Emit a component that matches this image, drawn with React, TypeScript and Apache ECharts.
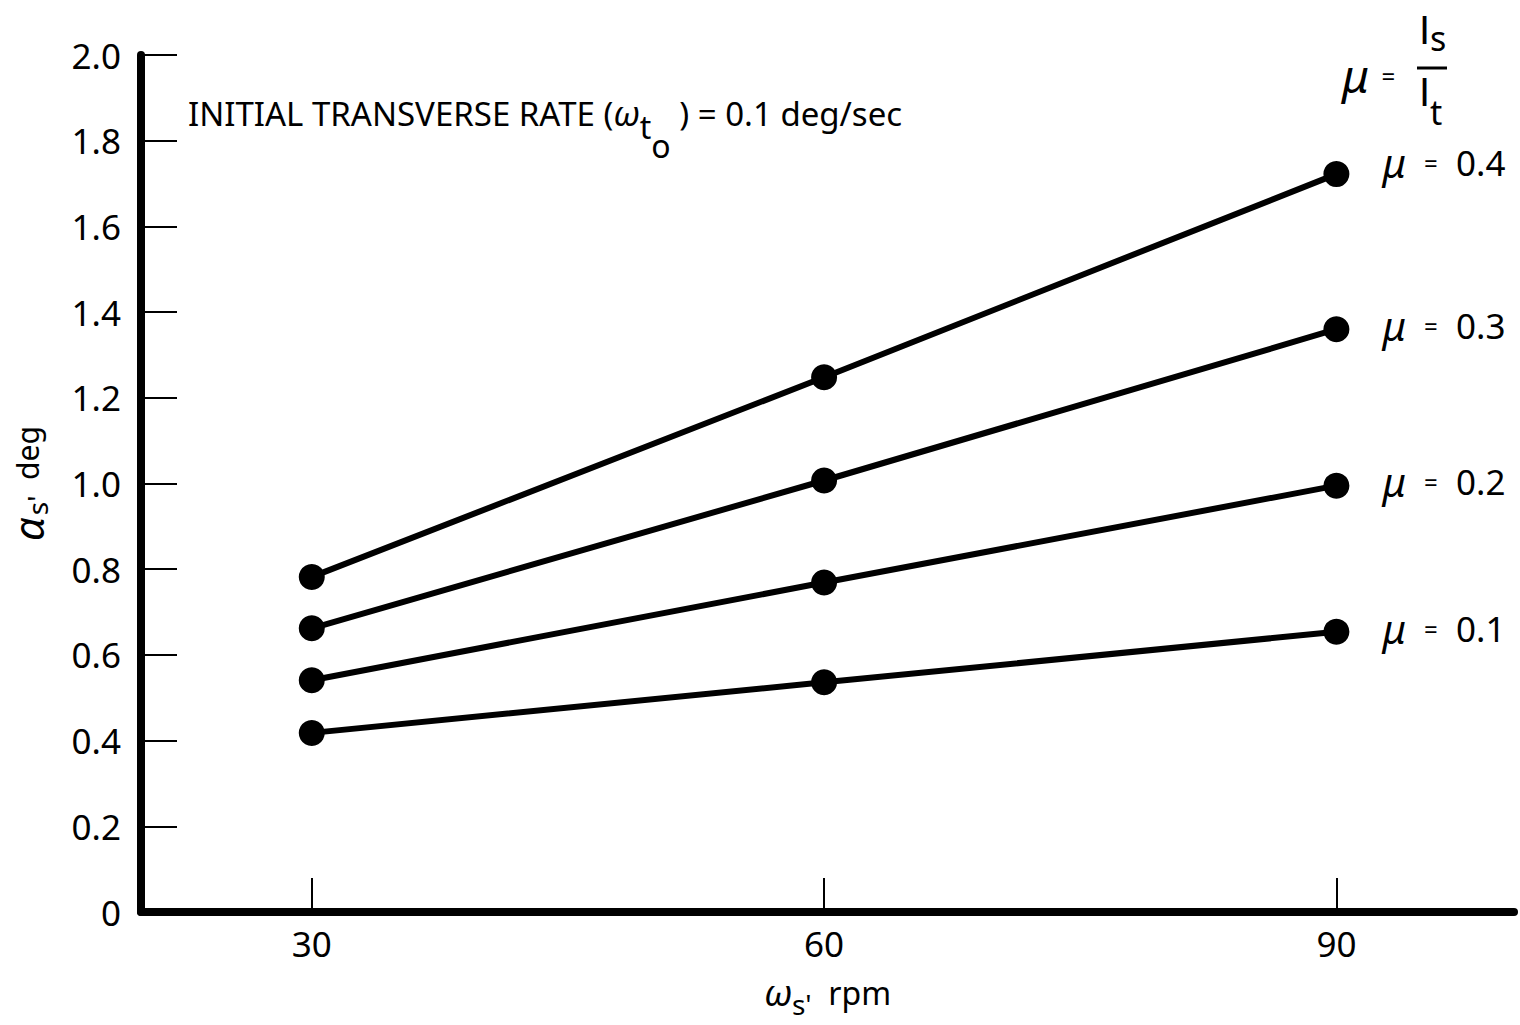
import React, { useEffect, useRef } from "react";
import * as echarts from "echarts";

const xValues = [30, 60, 90];
const mu04 = [0.782, 1.248, 1.722];
const mu03 = [0.662, 1.007, 1.36];
const mu02 = [0.541, 0.769, 0.995];
const mu01 = [0.418, 0.536, 0.654];
const muValues = ["0.4", "0.3", "0.2", "0.1"];
const seriesData = [mu04, mu03, mu02, mu01];
const labelShift = [-12, -4, -4, -3];
const xTicks = [30, 60, 90];

const FONT = "'Noto Sans', 'DejaVu Sans', sans-serif";
const PLAIN = "'Liberation Sans', Roboto, sans-serif";

export default function App() {
  const ref = useRef<HTMLDivElement>(null);
  useEffect(() => {
    if (!ref.current) return;
    const chart = echarts.init(ref.current, null, { renderer: "svg" });
    const series = seriesData.map((vals, i) => ({
      type: "line",
      name: "μ = " + muValues[i],
      data: vals.map((v, j) => [xValues[j], v]),
      symbol: "circle",
      symbolSize: 26,
      itemStyle: { color: "#000" },
      lineStyle: { color: "#000", width: 6 },
      label: { show: false },
      endLabel: {
        show: true,
        formatter: "{mu|μ}  {eq|=}  " + muValues[i],
        distance: 46,
        offset: [0, labelShift[i]],
        color: "#000",
        fontFamily: FONT,
        fontSize: 35,
        rich: {
          mu: { fontFamily: FONT, fontSize: 40, fontStyle: "italic", color: "#000" },
          eq: { fontFamily: FONT, fontSize: 24, color: "#000" },
        },
      },
    }));
    chart.setOption({
      animation: false,
      backgroundColor: "#fff",
      grid: { left: 141, right: 6, top: 55, bottom: 113, containLabel: false, outerBoundsMode: "none" },
      xAxis: {
        type: "value",
        min: 20,
        max: 100.4,
        name: "{w|ω}{sub|s'}  rpm",
        nameLocation: "middle",
        nameGap: 54,
        nameTextStyle: {
          fontFamily: FONT,
          fontSize: 32,
          color: "#000",
          rich: {
            w: { fontFamily: FONT, fontSize: 36, color: "#000", fontStyle: "italic" },
            sub: { fontFamily: FONT, fontSize: 28, color: "#000", padding: [24, 0, 0, 0] },
          },
        },
        axisLine: { show: true, lineStyle: { color: "#000", width: 8 } },
        axisTick: {
          show: true,
          inside: true,
          length: 34,
          customValues: xTicks,
          lineStyle: { color: "#000", width: 2 },
        },
        axisLabel: {
          customValues: xTicks,
          fontFamily: FONT,
          fontSize: 35,
          color: "#000",
          margin: 14,
        },
        splitLine: { show: false },
      },
      yAxis: {
        type: "value",
        min: 0,
        max: 2.0,
        interval: 0.2,
        name: "{a|α}{sub|s'}  deg",
        nameLocation: "middle",
        nameRotate: 90,
        nameGap: 90,
        nameTextStyle: {
          fontFamily: FONT,
          fontSize: 30,
          color: "#000",
          rich: {
            a: { fontFamily: FONT, fontSize: 42, color: "#000", fontStyle: "italic" },
            sub: { fontFamily: FONT, fontSize: 28, color: "#000", padding: [20, 0, 0, 2] },
          },
        },
        axisLine: { show: true, lineStyle: { color: "#000", width: 8 } },
        axisTick: { show: true, inside: true, length: 36, lineStyle: { color: "#000", width: 2 } },
        axisLabel: {
          fontFamily: FONT,
          fontSize: 35,
          color: "#000",
          margin: 20,
          formatter: (v: number) => (v === 0 ? "0" : v.toFixed(1)),
        },
        splitLine: { show: false },
      },
      graphic: [
        {
          type: "text",
          left: 188,
          top: 96,
          style: {
            text: "INITIAL TRANSVERSE RATE ({w|ω}{t|t}{o|o} ) = 0.1 deg/sec",
            fontFamily: FONT,
            fontSize: 33,
            fill: "#000",
            rich: {
              w: { fontFamily: FONT, fontSize: 34, fontStyle: "italic", fill: "#000" },
              t: { fontFamily: FONT, fontSize: 32, fill: "#000", padding: [26, 0, 0, 0] },
              o: { fontFamily: FONT, fontSize: 32, fill: "#000", padding: [64, 0, 0, 0] },
            },
          },
        },
        {
          type: "text",
          left: 1342,
          top: 52,
          style: {
            text: "{mu|μ}  = ",
            fontFamily: FONT,
            fontSize: 24,
            fill: "#000",
            rich: { mu: { fontFamily: FONT, fontSize: 46, fontStyle: "italic", fill: "#000" } },
          },
        },
        {
          type: "text",
          left: 1419,
          top: 10,
          style: {
            text: "I{s|s}",
            fontFamily: PLAIN,
            fontSize: 40,
            fill: "#000",
            rich: { s: { fontFamily: FONT, fontSize: 34, fill: "#000", padding: [16, 0, 0, 0] } },
          },
        },
        {
          type: "line",
          shape: { x1: 1417, y1: 68, x2: 1447, y2: 68 },
          style: { stroke: "#000", lineWidth: 3 },
        },
        {
          type: "text",
          left: 1419,
          top: 72,
          style: {
            text: "I{t|t}",
            fontFamily: PLAIN,
            fontSize: 40,
            fill: "#000",
            rich: { t: { fontFamily: FONT, fontSize: 34, fill: "#000", padding: [40, 0, 0, 0] } },
          },
        },
      ],
      series,
    });
    return () => chart.dispose();
  }, []);
  return <div ref={ref} style={{ width: 1520, height: 1025, position: "absolute", left: 0, top: 0 }} />;
}
